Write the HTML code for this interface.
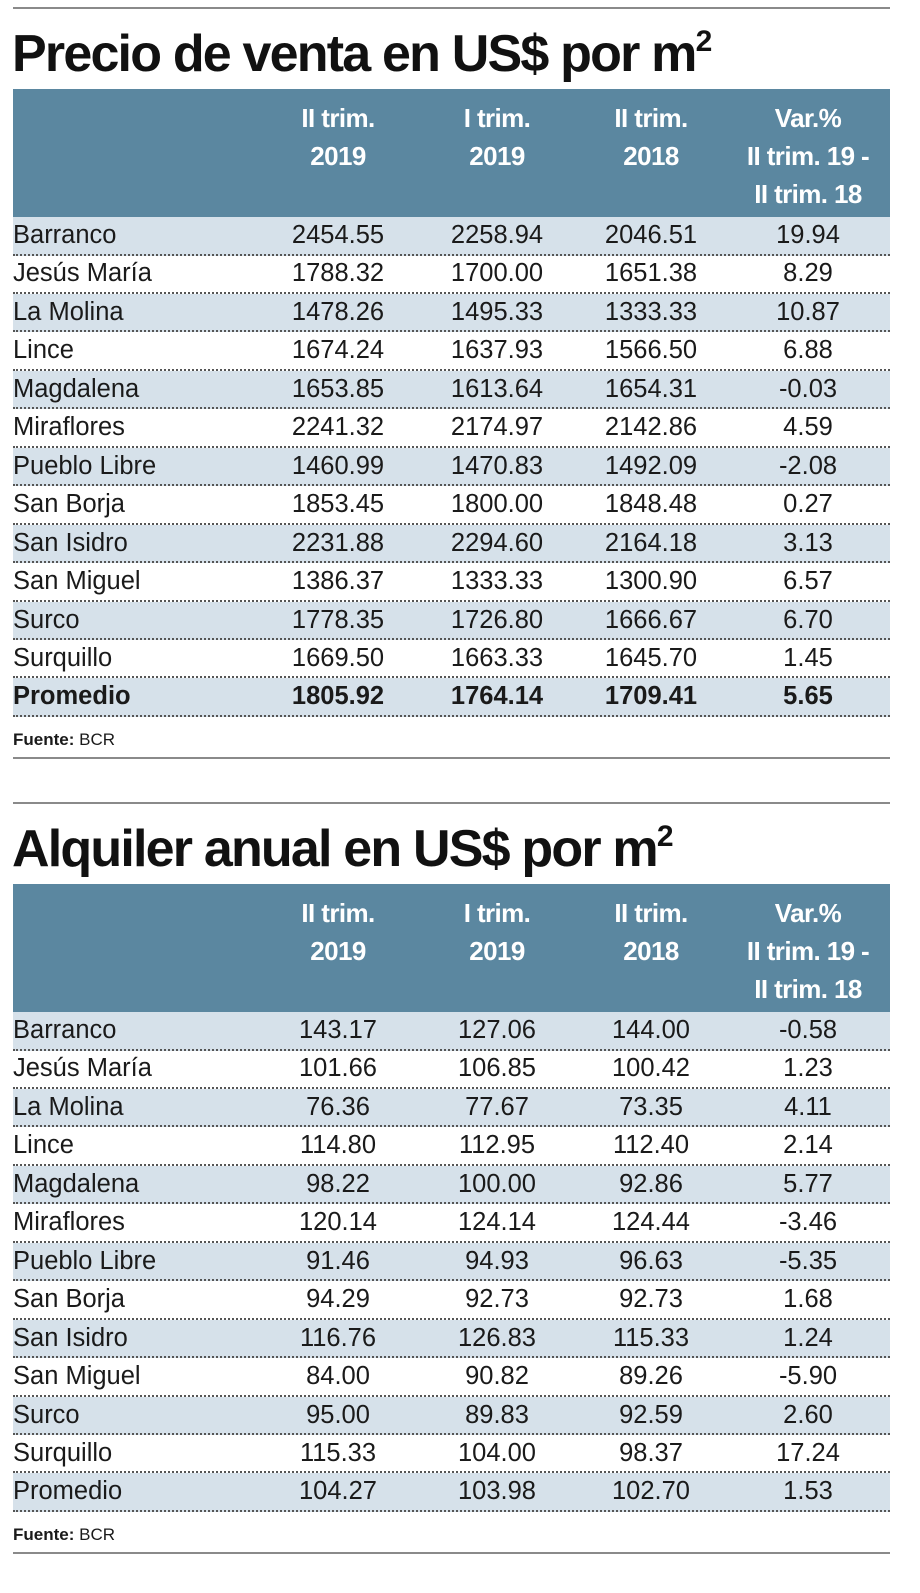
<!DOCTYPE html>
<html><head><meta charset="utf-8"><style>
*{margin:0;padding:0;box-sizing:border-box}
body{width:920px;height:1593px;background:#fff;font-family:"Liberation Sans",sans-serif;color:#1a1a1a;position:relative;overflow:hidden}
.rule{position:absolute;left:13px;width:877px;height:2px;background:#8a8a8a}
.title{position:absolute;left:12px;font-weight:bold;font-size:52px;letter-spacing:-1.8px;color:#111;white-space:nowrap;line-height:57px}
.title sup{font-size:30px;vertical-align:20px;letter-spacing:0}
.hdr{position:absolute;left:13px;width:877px;height:128px;background:#5b87a0}
.hc{position:absolute;top:0;color:#fff;font-weight:bold;font-size:26px;line-height:38px;text-align:center;width:190px;padding-top:10px;letter-spacing:-0.6px}
.row{position:absolute;left:13px;width:877px;height:38.5px;border-bottom:2px dotted #555}
.row.sh{background:#d6e1ea}
.cell{position:absolute;top:0;line-height:36px;font-size:25.5px;white-space:nowrap}
.name{left:0}
.num{width:190px;text-align:center}
.b .cell{font-weight:bold}
.src{position:absolute;left:13px;font-size:17px}
</style></head><body>
<div id="root"></div>
<script>
var districts=["Barranco","Jesús María","La Molina","Lince","Magdalena","Miraflores","Pueblo Libre","San Borja","San Isidro","San Miguel","Surco","Surquillo","Promedio"];
var ventaQ2_19=["2454.55","1788.32","1478.26","1674.24","1653.85","2241.32","1460.99","1853.45","2231.88","1386.37","1778.35","1669.50","1805.92"];
var ventaQ1_19=["2258.94","1700.00","1495.33","1637.93","1613.64","2174.97","1470.83","1800.00","2294.60","1333.33","1726.80","1663.33","1764.14"];
var ventaQ2_18=["2046.51","1651.38","1333.33","1566.50","1654.31","2142.86","1492.09","1848.48","2164.18","1300.90","1666.67","1645.70","1709.41"];
var ventaVar=["19.94","8.29","10.87","6.88","-0.03","4.59","-2.08","0.27","3.13","6.57","6.70","1.45","5.65"];
var alqQ2_19=["143.17","101.66","76.36","114.80","98.22","120.14","91.46","94.29","116.76","84.00","95.00","115.33","104.27"];
var alqQ1_19=["127.06","106.85","77.67","112.95","100.00","124.14","94.93","92.73","126.83","90.82","89.83","104.00","103.98"];
var alqQ2_18=["144.00","100.42","73.35","112.40","92.86","124.44","96.63","92.73","115.33","89.26","92.59","98.37","102.70"];
var alqVar=["-0.58","1.23","4.11","2.14","5.77","-3.46","-5.35","1.68","1.24","-5.90","2.60","17.24","1.53"];
var heads=["II trim.<br>2019","I trim.<br>2019","II trim.<br>2018","Var.%<br>II trim. 19 -<br>II trim. 18"];
var colCenters=[338,497,651,808];
var root=document.getElementById('root');
function add(tag,cls,html,style){var e=document.createElement(tag);if(cls)e.className=cls;if(html!=null)e.innerHTML=html;if(style)e.setAttribute('style',style);return e;}
function section(y0,title,cols,boldLast,prefix){
  var r=add('div','rule',null,'top:'+y0+'px');
  
  
  root.appendChild(r);
  var t=add('div','title',title,'top:'+(y0+6)+'px');
  
  
  root.appendChild(t);
  var h=add('div','hdr',null,'top:'+(y0+82)+'px');
  
  
  for(var i=0;i<4;i++){
    var c=add('div','hc',heads[i],'left:'+(colCenters[i]-13-95)+'px');
    
    
    h.appendChild(c);
  }
  root.appendChild(h);
  var ry=y0+210;
  for(var j=0;j<districts.length;j++){
    var cls='row'+(j%2==0?' sh':'')+(boldLast&&j==districts.length-1?' b':'');
    var row=add('div',cls,null,'top:'+(ry+j*38.45)+'px');
    
    
    var n=add('div','cell name',districts[j]);
    
    
    row.appendChild(n);
    for(var k=0;k<4;k++){
      var v=add('div','cell num',cols[k][j],'left:'+(colCenters[k]-13-95)+'px');
      
      
      row.appendChild(v);
    }
    root.appendChild(row);
  }
  var s=add('div','src','<b>Fuente:</b> BCR','top:'+(ry+13*38.45+13)+'px');
  
  
  root.appendChild(s);
  var r2=add('div','rule',null,'top:'+(ry+13*38.45+40)+'px');
  
  
  root.appendChild(r2);
}
section(7,'Precio de venta en US$ por m<sup>2</sup>',[ventaQ2_19,ventaQ1_19,ventaQ2_18,ventaVar],true,'venta');
section(802,'Alquiler anual en US$ por m<sup>2</sup>',[alqQ2_19,alqQ1_19,alqQ2_18,alqVar],false,'alquiler');
</script>
</body></html>
